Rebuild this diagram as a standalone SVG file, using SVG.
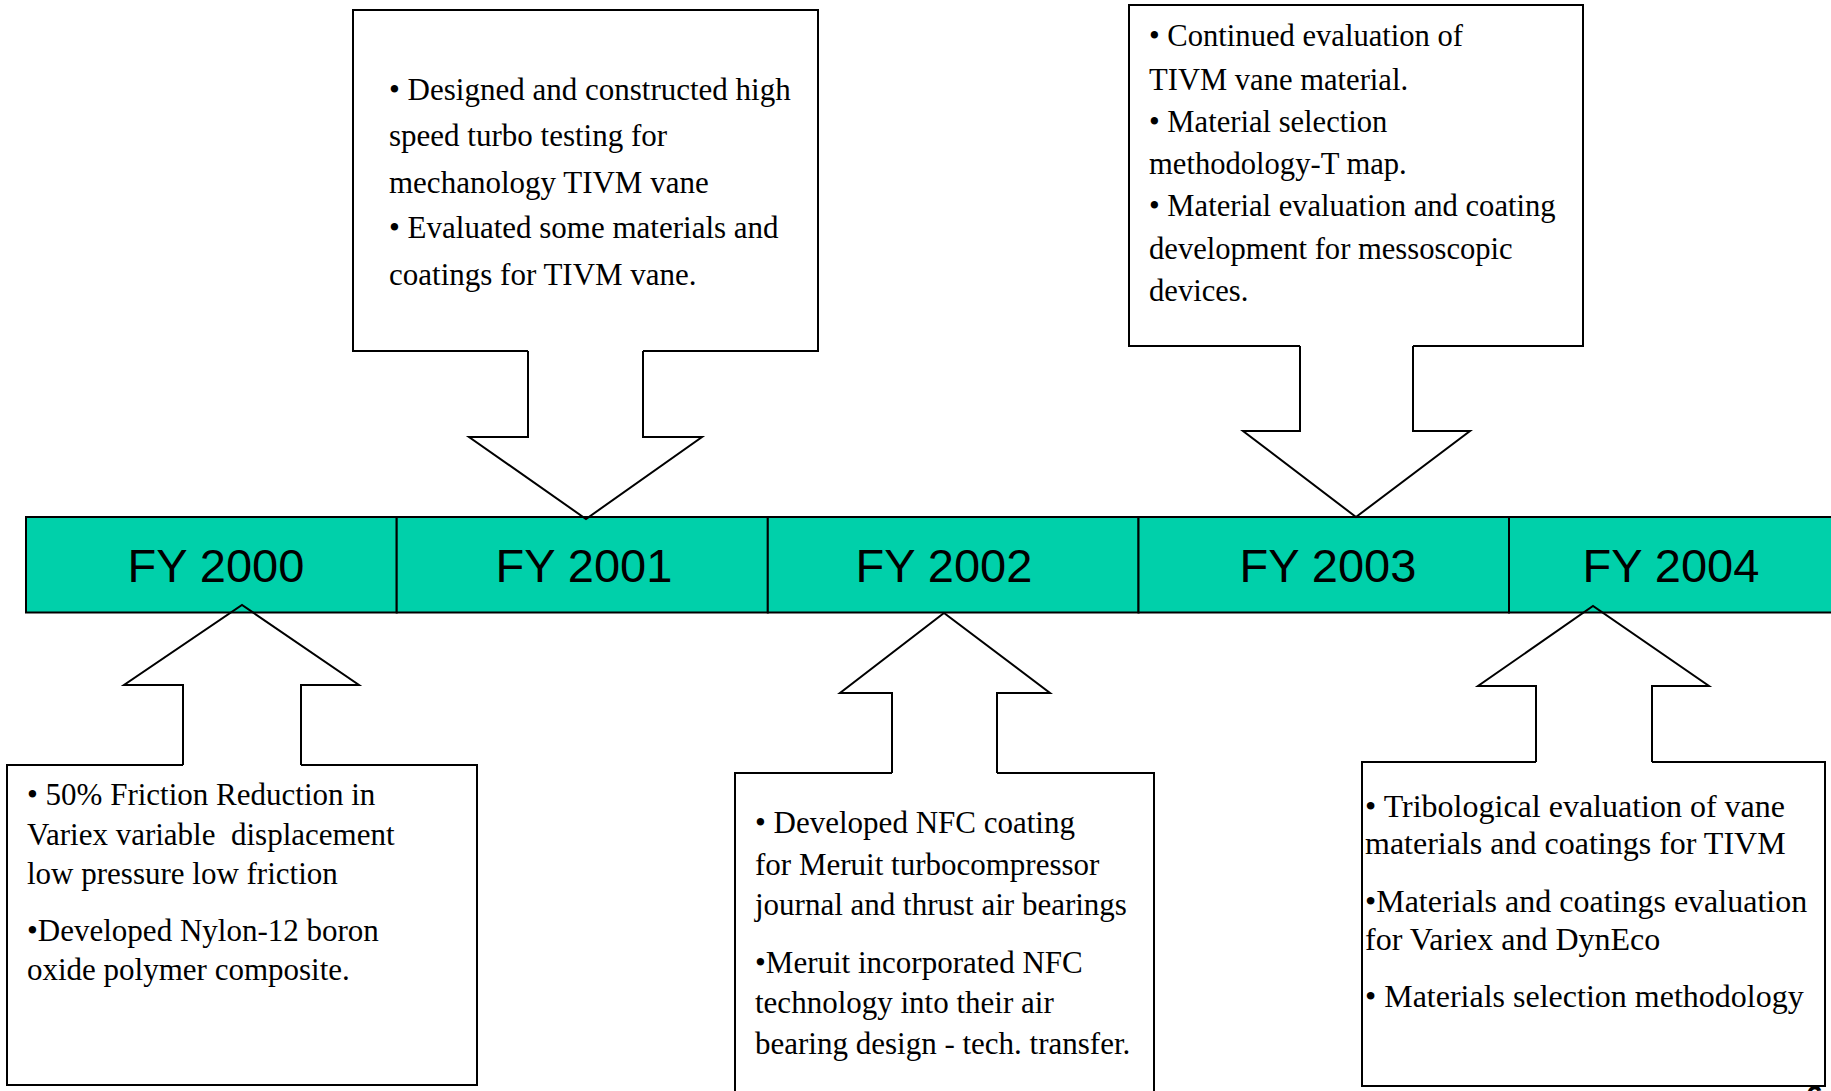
<svg xmlns="http://www.w3.org/2000/svg" width="1831" height="1091" viewBox="0 0 1831 1091">
<style>
.cell{fill:#00D0AA;stroke:#000;stroke-width:2}
.fy{font-family:"Liberation Sans",Arial,sans-serif;font-size:47px;fill:#000;text-anchor:middle}
.box{fill:none;stroke:#000;stroke-width:2;stroke-linejoin:miter}
.arr{fill:none;stroke:#000;stroke-width:2;stroke-linejoin:miter}
.t{font-family:"Liberation Serif","Times New Roman",serif;font-size:30px;fill:#000;white-space:pre}
.t305{font-size:30.6px}
.t31{font-size:31px}
.t32{font-size:32px}
</style>
<rect x="0" y="0" width="1831" height="1091" fill="#fff"/>
<g id="timeline">
  <g id="fy2000"><rect class="cell" x="26" y="517" width="370.7" height="95.5"/><text class="fy" x="216" y="582">FY 2000</text></g>
  <g id="fy2001"><rect class="cell" x="396.7" y="517" width="371.1" height="95.5"/><text class="fy" x="584" y="582">FY 2001</text></g>
  <g id="fy2002"><rect class="cell" x="767.8" y="517" width="370.7" height="95.5"/><text class="fy" x="944" y="582">FY 2002</text></g>
  <g id="fy2003"><rect class="cell" x="1138.5" y="517" width="370.5" height="95.5"/><text class="fy" x="1328" y="582">FY 2003</text></g>
  <g id="fy2004"><rect class="cell" x="1509" y="517" width="371" height="95.5"/><text class="fy" x="1671" y="582">FY 2004</text></g>
</g>
<g id="note2000">
  <path class="box" d="M183,765 H7 V1085 H477 V765 H301"/>
  <text class="t t31" x="27" y="805">• 50% Friction Reduction in</text>
  <text class="t t31" x="27" y="845">Variex variable  displacement</text>
  <text class="t t31" x="27" y="884">low pressure low friction</text>
  <text class="t t31" x="27" y="941">•Developed Nylon-12 boron</text>
  <text class="t t31" x="27" y="980">oxide polymer composite.</text>
</g>
<g id="note2001">
  <path class="box" d="M528,351 H353 V10 H818 V351 H643"/>
  <text class="t t31" x="389" y="100">• Designed and constructed high</text>
  <text class="t t31" x="389" y="146">speed turbo testing for</text>
  <text class="t t31" x="389" y="193">mechanology TIVM vane</text>
  <text class="t t31" x="389" y="238">• Evaluated some materials and</text>
  <text class="t t31" x="389" y="285">coatings for TIVM vane.</text>
</g>
<g id="note2002">
  <path class="box" d="M892,773 H735 V1100 M1154,1100 V773 H997"/>
  <text class="t t31" x="755" y="833">• Developed NFC coating</text>
  <text class="t t31" x="755" y="875">for Meruit turbocompressor</text>
  <text class="t t31" x="755" y="915">journal and thrust air bearings</text>
  <text class="t t31" x="755" y="973">•Meruit incorporated NFC</text>
  <text class="t t31" x="755" y="1013">technology into their air</text>
  <text class="t t31" x="755" y="1054">bearing design - tech. transfer.</text>
</g>
<g id="note2003">
  <path class="box" d="M1300,346 H1129 V5 H1583 V346 H1413"/>
  <text class="t t305" x="1149" y="46">• Continued evaluation of</text>
  <text class="t t305" x="1149" y="90">TIVM vane material.</text>
  <text class="t t305" x="1149" y="132">• Material selection</text>
  <text class="t t305" x="1149" y="174">methodology-T map.</text>
  <text class="t t305" x="1149" y="216">• Material evaluation and coating</text>
  <text class="t t305" x="1149" y="259">development for messoscopic</text>
  <text class="t t305" x="1149" y="301">devices.</text>
</g>
<g id="note2004">
  <path class="box" d="M1536,762 H1362 V1086 H1825 V762 H1652"/>
  <text class="t t32" x="1365" y="817">• Tribological evaluation of vane</text>
  <text class="t t32" x="1365" y="854">materials and coatings for TIVM</text>
  <text class="t t32" x="1365" y="912">•Materials and coatings evaluation</text>
  <text class="t t32" x="1365" y="950">for Variex and DynEco</text>
  <text class="t t32" x="1365" y="1007">• Materials selection methodology</text>
</g>
<g id="connectors">
  <path class="arr" d="M183,765 V685 H124 L242,605 L359,685 H301 V765"/>
  <path class="arr" d="M528,351 V437 H469 L586,519 L702,437 H643 V351"/>
  <path class="arr" d="M892,773 V693 H840 L944,613 L1050,693 H997 V773"/>
  <path class="arr" d="M1300,346 V431 H1243 L1356,517 L1470,431 H1413 V346"/>
  <path class="arr" d="M1536,762 V686 H1478 L1593,606 L1709,686 H1652 V762"/>
</g>
<text x="1806" y="1106" style="font-family:'Liberation Sans',Arial,sans-serif;font-size:30px;font-weight:bold;fill:#000">6</text>
</svg>
